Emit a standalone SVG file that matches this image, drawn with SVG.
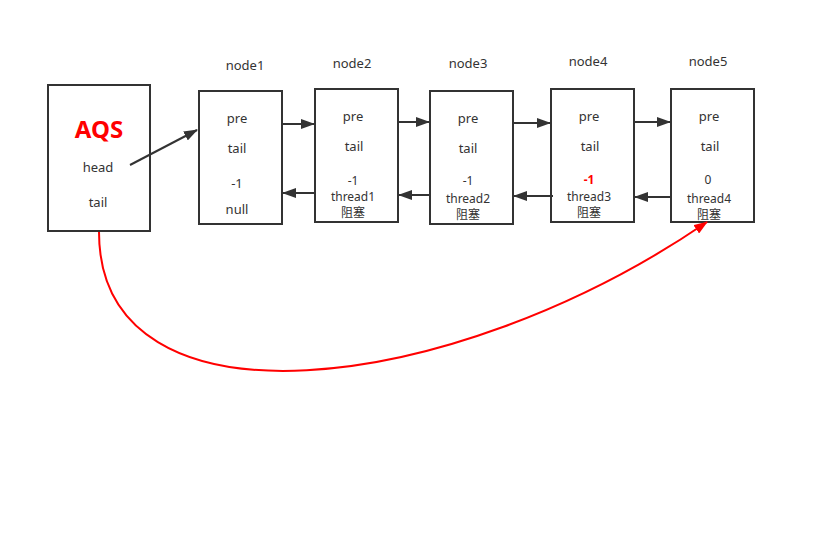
<svg xmlns="http://www.w3.org/2000/svg" width="815" height="536" viewBox="0 0 815 536">
<style>
.box{fill:#fff;stroke:#333;stroke-width:2}
text{font-family:"Noto Sans","Noto Sans CJK SC",sans-serif;font-size:13px;fill:#333;text-anchor:middle}
.sm{font-size:12px}
.red{fill:#f00;font-weight:bold}
.ln{stroke:#333;stroke-width:2;fill:none}
</style>
<defs>
<marker id="ah" markerWidth="14" markerHeight="10" refX="13" refY="5" orient="auto" markerUnits="userSpaceOnUse"><path d="M0,0 L14,5 L0,10 Z" fill="#333"/></marker>
<marker id="ahr" markerWidth="14" markerHeight="10" refX="13" refY="5" orient="auto" markerUnits="userSpaceOnUse"><path d="M0,0 L14,5 L0,10 Z" fill="#f00"/></marker>
</defs>
<rect width="815" height="536" fill="#fff"/>
<g id="aqs">
<rect class="box" x="48" y="85" width="102" height="146"/>
<text x="99" y="138" class="red" style="font-size:24px">AQS</text>
<text x="98" y="172">head</text>
<text x="98" y="207">tail</text>
</g>
<g id="node1">
<text x="245" y="70">node1</text>
<rect class="box" x="199" y="91" width="83" height="133"/>
<text x="237" y="123">pre</text>
<text x="237" y="153">tail</text>
<text x="237" y="188">-1</text>
<text x="237" y="214">null</text>
</g>
<g id="node2">
<text x="352" y="68">node2</text>
<rect class="box" x="315" y="89" width="83" height="133"/>
<text x="353" y="121">pre</text>
<text x="354" y="151">tail</text>
<text x="353" y="185" class="sm">-1</text>
<text x="353" y="201" class="sm">thread1</text>
<text x="353" y="217" class="sm">阻塞</text>
</g>
<g id="node3">
<text x="468" y="68">node3</text>
<rect class="box" x="430" y="91" width="83" height="133"/>
<text x="468" y="123">pre</text>
<text x="468" y="153">tail</text>
<text x="468" y="185" class="sm">-1</text>
<text x="468" y="203" class="sm">thread2</text>
<text x="468" y="219" class="sm">阻塞</text>
</g>
<g id="node4">
<text x="588" y="66">node4</text>
<rect class="box" x="551" y="89" width="83" height="133"/>
<text x="589" y="121">pre</text>
<text x="590" y="151">tail</text>
<text x="589" y="184" class="red sm">-1</text>
<text x="589" y="201" class="sm">thread3</text>
<text x="589" y="217" class="sm">阻塞</text>
</g>
<g id="node5">
<text x="708" y="66">node5</text>
<rect class="box" x="671" y="89" width="83" height="133"/>
<text x="709" y="121">pre</text>
<text x="710" y="151">tail</text>
<text x="708" y="184" class="sm">0</text>
<text x="709" y="203" class="sm">thread4</text>
<text x="709" y="219" class="sm">阻塞</text>
</g>
<g id="connectors">
<path class="ln" d="M130,165 L197,130" marker-end="url(#ah)"/>
<path class="ln" d="M282,124 L314,124" marker-end="url(#ah)"/>
<path class="ln" d="M398,122 L429,122" marker-end="url(#ah)"/>
<path class="ln" d="M513,123 L550,123" marker-end="url(#ah)"/>
<path class="ln" d="M634,122 L670,122" marker-end="url(#ah)"/>
<path class="ln" d="M315,193 L283,193" marker-end="url(#ah)"/>
<path class="ln" d="M431,195 L399,195" marker-end="url(#ah)"/>
<path class="ln" d="M553,196 L514,196" marker-end="url(#ah)"/>
<path class="ln" d="M671,197 L635,197" marker-end="url(#ah)"/>
<path d="M99,232 C99,438 450,398 707,222" stroke="#f00" stroke-width="2" fill="none" marker-end="url(#ahr)"/>
</g>
</svg>
